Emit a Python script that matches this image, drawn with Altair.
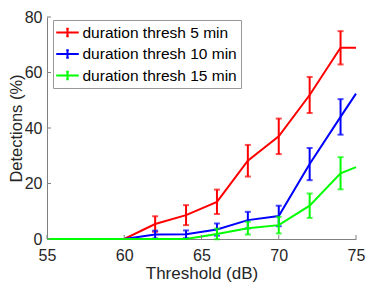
import altair as alt
import pandas as pd

series = ["duration thresh 5 min", "duration thresh 10 min", "duration thresh 15 min"]
colors = ["#ff0000", "#0000ff", "#00ff00"]
thresholds = [55, 60, 62, 64, 66, 68, 70, 72, 74, 75]
det_5 = [0, 0, 5.4, 8.6, 13.4, 28.2, 37.0, 51.9, 68.9, 68.9]
err_5 = [0, 0, 2.8, 3.6, 4.4, 5.7, 6.4, 6.5, 6.0, 0]
det_10 = [0, 0, 1.6, 1.7, 3.4, 6.8, 8.3, 27.0, 44.0, 52.4]
err_10 = [0, 0, 1.4, 1.4, 2.2, 3.0, 3.7, 5.8, 6.4, 0]
det_15 = [0, 0, 0, 0, 1.8, 3.9, 5.0, 12.0, 23.7, 25.9]
err_15 = [0, 0, 0, 0, 1.9, 2.3, 3.0, 4.4, 5.8, 0]
x_ticks = [55, 60, 65, 70, 75]
y_ticks = [0, 20, 40, 60, 80]

W, H = 309, 222
PAD = {"left": 39, "top": 9, "right": 10, "bottom": 45}
FONT = "Liberation Sans"
AXIS_GRAY = "#808080"
TEXT = "#262626"

rows = []
for name, det, err in zip(series, [det_5, det_10, det_15], [err_5, err_10, err_15]):
    for x, y, e in zip(thresholds, det, err):
        rows.append({"series": name, "x": x, "y": y, "lo": y - e, "hi": y + e, "err": e})
df = pd.DataFrame(rows)

xscale = alt.Scale(domain=[55, 75], nice=False, zero=False)
yscale = alt.Scale(domain=[0, 80], nice=False)

xaxis = alt.Axis(values=x_ticks, title="Threshold (dB)", grid=False, ticks=False,
                 labelPadding=8, labelFontSize=16, labelFont=FONT, labelColor=TEXT,
                 titleFontSize=17, titleFont=FONT, titleFontWeight="normal", titleColor=TEXT,
                 titlePadding=2, domainColor=AXIS_GRAY, labelFlush=False, labelOverlap=False)
yaxis = alt.Axis(values=y_ticks, title="Detections (%)", grid=False, ticks=False,
                 labelPadding=5, labelFontSize=16, labelFont=FONT, labelColor=TEXT,
                 titleFontSize=16.5, titleFont=FONT, titleFontWeight="normal", titleColor=TEXT,
                 titleX=-38.5, titleY=H / 2, titleAngle=270, titleAlign="center",
                 titleBaseline="top",
                 domainColor=AXIS_GRAY, labelFlush=False, labelOverlap=False)

legend = alt.Legend(title=None, orient="none", legendX=6, legendY=3,
                    symbolType="M-1.5,0H1.5M0,-0.49V0.49M-0.17,-0.49H0.17M-0.17,0.49H0.17",
                    symbolSize=225, symbolStrokeWidth=2, symbolFillColor="transparent",
                    labelFont=FONT, labelFontSize=15.5, labelColor="#000000", labelLimit=300,
                    labelOffset=6.5, padding=4, symbolOffset=2, rowPadding=4.5,
                    strokeColor="#999999", fillColor="#ffffff")

color = alt.Color("series:N", scale=alt.Scale(domain=series, range=colors), legend=legend)

X = lambda f: alt.X(f, scale=xscale, axis=xaxis)
Y = lambda f: alt.Y(f, scale=yscale, axis=yaxis)

base = alt.Chart(df)
layers = []
for name, col in zip(series, colors):
    f = alt.datum.series == name
    line = base.transform_filter(f).mark_line(strokeWidth=2).encode(
        x=X("x:Q"), y=Y("y:Q"), color=color, order="x:Q",
    )
    eb = base.transform_filter(f).transform_filter(alt.datum.err > 0)
    bar = eb.mark_rule(strokeWidth=2, color=col).encode(x=X("x:Q"), y=Y("lo:Q"), y2="hi:Q")
    cap_lo = eb.mark_tick(orient="horizontal", size=6, thickness=2, color=col).encode(
        x=X("x:Q"), y=Y("lo:Q"))
    cap_hi = eb.mark_tick(orient="horizontal", size=6, thickness=2, color=col).encode(
        x=X("x:Q"), y=Y("hi:Q"))
    layers += [line, bar, cap_lo, cap_hi]

xt = alt.Chart(pd.DataFrame({"t": x_ticks})).mark_rule(color=AXIS_GRAY, strokeWidth=1).encode(
    x=X("t:Q"), y=alt.value(H), y2=alt.value(H - 4))
yt = alt.Chart(pd.DataFrame({"t": y_ticks})).mark_rule(color=AXIS_GRAY, strokeWidth=1).encode(
    y=Y("t:Q"), x=alt.value(0), x2=alt.value(4))

chart = alt.layer(*layers, xt, yt).properties(
    width=W, height=H,
    autosize=alt.AutoSizeParams(type="none"),
    padding=PAD,
).configure_view(stroke=None)

chart.save("out.html", embed_options={"renderer": "svg", "actions": False})
